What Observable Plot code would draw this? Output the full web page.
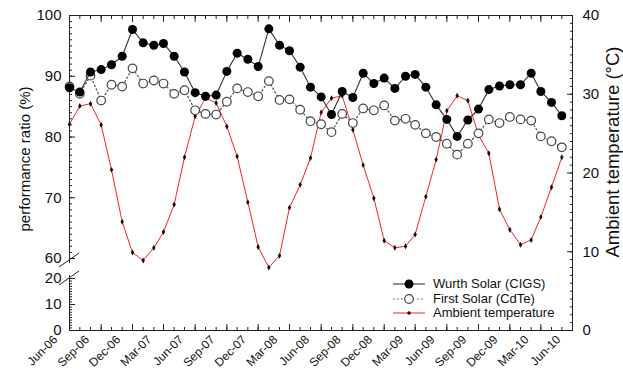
<!DOCTYPE html>
<html><head><meta charset="utf-8">
<script src="https://cdn.jsdelivr.net/npm/d3@7"></script>
<script src="https://cdn.jsdelivr.net/npm/@observablehq/plot@0.6"></script>
<style>
body{margin:0;background:#fff;font-family:"Liberation Sans",Arial,sans-serif;}
#wrap{position:relative;width:623px;height:371px;overflow:hidden;}
#legend{position:absolute;left:393px;top:277px;font-size:13px;line-height:14.5px;color:#111;}
#legend .row{display:flex;align-items:center;height:14.5px;}
#legend svg{margin-right:8px;}
</style></head><body><div id="wrap"><div id="legend"></div></div>
<script>
const months = ["2006-06-01","2006-07-01","2006-08-01","2006-09-01","2006-10-01","2006-11-01","2006-12-01",
"2007-01-01","2007-02-01","2007-03-01","2007-04-01","2007-05-01","2007-06-01","2007-07-01","2007-08-01","2007-09-01","2007-10-01","2007-11-01","2007-12-01",
"2008-01-01","2008-02-01","2008-03-01","2008-04-01","2008-05-01","2008-06-01","2008-07-01","2008-08-01","2008-09-01","2008-10-01","2008-11-01","2008-12-01",
"2009-01-01","2009-02-01","2009-03-01","2009-04-01","2009-05-01","2009-06-01","2009-07-01","2009-08-01","2009-09-01","2009-10-01","2009-11-01","2009-12-01",
"2010-01-01","2010-02-01","2010-03-01","2010-04-01","2010-05-01"];
const wurth = [88.1,87.4,90.7,91.1,91.9,93.3,97.7,95.5,95.1,95.4,93.3,90.7,87.3,86.7,86.9,90.8,93.8,
92.8,91.6,97.8,95.1,94.2,91.5,88.2,86.6,83.7,87.5,86.5,90.5,88.8,89.7,88.0,
90.0,90.3,88.2,85.3,82.9,80.1,82.8,84.6,87.8,88.4,88.6,88.6,90.5,87.5,85.7,83.5];
const firstSolar = [88.3,87.1,90.1,86.0,88.6,88.3,91.3,88.8,89.3,88.8,87.1,87.7,84.4,83.8,83.7,85.8,88.0,
87.4,86.7,89.2,86.1,86.2,84.5,82.6,82.1,80.8,83.8,82.3,84.7,84.4,85.2,82.7,
83.0,82.0,80.6,80.0,78.9,77.1,78.9,80.6,82.9,82.3,83.3,82.9,82.7,80.1,79.3,78.3];
const ambient = [26.2,28.5,28.8,26.1,20.4,13.8,9.9,8.9,10.5,12.5,16.0,22.0,27.2,29.5,28.9,25.9,22.1,
16.3,10.6,8.0,9.5,15.6,18.5,21.9,27.7,29.5,29.8,25.5,21.0,16.8,11.4,10.5,
10.7,12.2,17.0,21.7,27.9,29.8,29.2,24.8,22.5,15.4,12.8,10.9,11.5,14.4,18.2,22.0];
const xTickDates = ["2006-06-01","2006-09-01","2006-12-01","2007-03-01","2007-06-01","2007-09-01","2007-12-01",
"2008-03-01","2008-06-01","2008-09-01","2008-12-01","2009-03-01","2009-06-01","2009-09-01","2009-12-01","2010-03-01","2010-06-01"];
const xTickLabels = ["Jun-06","Sep-06","Dec-06","Mar-07","Jun-07","Sep-07","Dec-07","Mar-08","Jun-08","Sep-08","Dec-08","Mar-09","Jun-09","Sep-09","Dec-09","Mar-10","Jun-10"];
const prTicks = [0,10,20,60,70,80,90,100];
const tempTicks = [0,10,20,30,40];
const seriesNames = ["Wurth Solar (CIGS)","First Solar (CdTe)","Ambient temperature"];

const parse = d3.utcParse("%Y-%m-%d");
const rows = months.map((m,i) => ({date: parse(m), wurth: wurth[i], first: firstSolar[i], temp: ambient[i]}));
const tickDates = xTickDates.map(parse);
const minorDates = d3.utcMonth.range(parse("2006-06-01"), parse("2010-06-02"));

// broken left axis: performance ratio mapped onto the temperature (right) scale
const prToY = d3.scaleLinear().domain([0,20,60,100]).range([0,6.6,9.14,40]);
const prMinor = d3.range(0,21).concat(d3.range(60,101));
const labelOf = d => { const i = tickDates.findIndex(t => +t === +d); return i >= 0 ? xTickLabels[i] : ""; };

const brk = (index, scales, values, dims) => {
  const g = d3.create("svg:g");
  const x0 = dims.marginLeft;
  const yA = scales.y(prToY(60)) + 2, yB = scales.y(prToY(20));
  g.append("rect").attr("x", x0-3).attr("y", yA+3).attr("width", 6).attr("height", yB-yA-6).attr("fill","white");
  for (const yc of [yA, yB]) {
    g.append("line").attr("x1", x0-10).attr("y1", yc+7).attr("x2", x0+10).attr("y2", yc-7)
      .attr("stroke","#222").attr("stroke-width",1);
  }
  return g.node();
};

const chart = Plot.plot({
  width: 623, height: 371,
  marginLeft: 69, marginRight: 51, marginTop: 15, marginBottom: 41,
  style: {fontFamily: '"Liberation Sans", Arial, sans-serif', fontSize: "15px", color: "#111", overflow: "visible"},
  x: {type: "utc", domain: [parse("2006-06-01"), parse("2010-06-01")], axis: null},
  y: {domain: [0, 40], axis: null},
  marks: [
    Plot.frame({stroke: "#222"}),
    // left axis
    Plot.axisY(prTicks.map(prToY), {anchor: "left", tickSize: -6, tickPadding: 14, stroke: "#222",
      tickFormat: d => String(Math.round(prToY.invert(d))), label: null}),
    Plot.axisY(prMinor.map(prToY), {anchor: "left", tickSize: -3, tickFormat: () => "", label: null, stroke: "#222"}),
    // right axis
    Plot.axisY(tempTicks, {anchor: "right", tickSize: -6, tickPadding: 16, stroke: "#222", label: null}),
    Plot.axisY(d3.range(0,41), {anchor: "right", tickSize: -3, tickFormat: () => "", label: null, stroke: "#222"}),
    // bottom axis
    Plot.axisX(tickDates, {anchor: "bottom", tickSize: -6, tickFormat: () => "", label: null, stroke: "#222"}),
    Plot.axisX(tickDates, {anchor: "bottom", tickSize: 0, tickPadding: 7, tickRotate: -45, fontSize: 12, dx: -14,
      tickFormat: labelOf, label: null}),
    Plot.axisX(minorDates, {anchor: "bottom", tickSize: -3, tickFormat: () => "", label: null, stroke: "#222"}),
    // top axis
    Plot.axisX(tickDates, {anchor: "top", tickSize: -6, tickFormat: () => "", label: null, stroke: "#222"}),
    Plot.axisX(minorDates, {anchor: "top", tickSize: -3, tickFormat: () => "", label: null, stroke: "#222"}),
    brk,
    // axis titles
    Plot.text(["performance ratio (%)"], {frameAnchor: "left", textAnchor: "middle", dx: -44, dy: -14, rotate: -90, fontSize: 15, fill: "#111"}),
    Plot.text(["Ambient temperature (°C)"], {frameAnchor: "right", textAnchor: "middle", dx: 41, dy: -21, rotate: -90, fontSize: 18.5, fill: "#111"}),
    // ambient temperature
    Plot.line(rows, {x: "date", y: "temp", stroke: "#ff2020", strokeWidth: 1}),
    Plot.dot(rows, {x: "date", y: "temp", r: 1.8, fill: "#111", symbol: "diamond"}),
    // first solar
    Plot.line(rows, {x: "date", y: d => prToY(d.first), stroke: "#555", strokeWidth: 1.2, strokeDasharray: "1.5,2.5"}),
    Plot.dot(rows, {x: "date", y: d => prToY(d.first), r: 4.3, fill: "white", stroke: "#444", strokeWidth: 1.2}),
    // wurth solar
    Plot.line(rows, {x: "date", y: d => prToY(d.wurth), stroke: "#333", strokeWidth: 1.1}),
    Plot.dot(rows, {x: "date", y: d => prToY(d.wurth), r: 4.5, fill: "#000"})
  ]
});
document.getElementById("wrap").prepend(chart);

// legend
const leg = d3.select("#legend");
const styles = [
  {stroke: "#333", dash: null, fill: "#000", mstroke: "none", r: 4.5, w: 1.1},
  {stroke: "#555", dash: "1.5,2.5", fill: "white", mstroke: "#444", r: 4.3, w: 1.2},
  {stroke: "#ff2020", dash: null, fill: "#111", mstroke: "none", r: 1.8, w: 1}
];
seriesNames.forEach((name, i) => {
  const s = styles[i];
  const row = leg.append("div").attr("class", "row");
  const svg = row.append("svg").attr("width", 32).attr("height", 12);
  svg.append("line").attr("x1", 0).attr("x2", 32).attr("y1", 6).attr("y2", 6)
    .attr("stroke", s.stroke).attr("stroke-width", s.w).attr("stroke-dasharray", s.dash);
  svg.append("circle").attr("cx", 16).attr("cy", 6).attr("r", s.r).attr("fill", s.fill).attr("stroke", s.mstroke).attr("stroke-width", 1.2);
  row.append("span").text(name);
});
</script>
</body></html>
